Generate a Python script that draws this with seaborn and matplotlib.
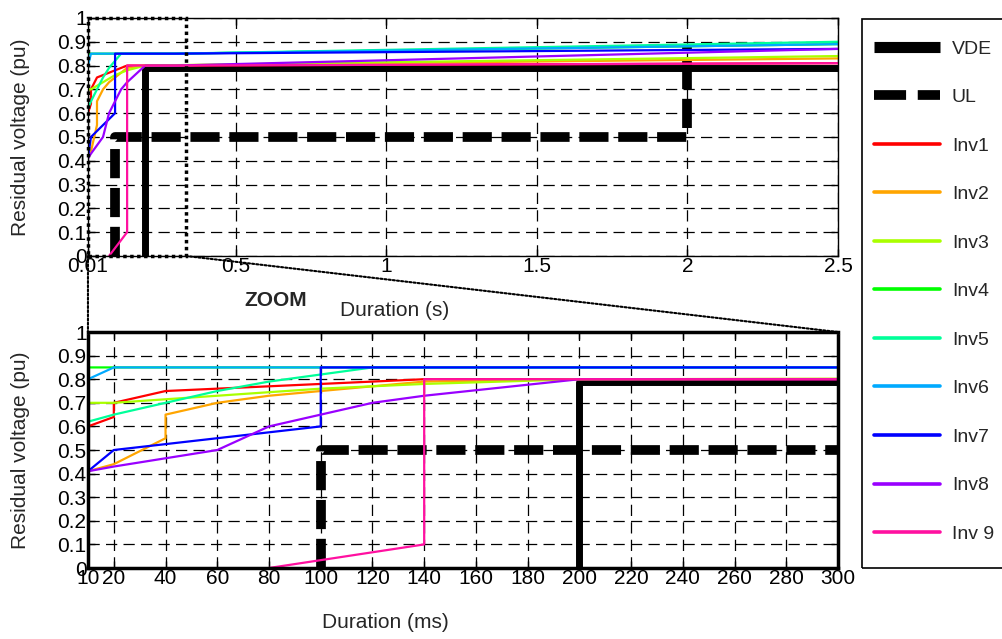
import numpy as np
import pandas as pd
import matplotlib
matplotlib.use("Agg")
import matplotlib.pyplot as plt
from matplotlib.patches import Rectangle, ConnectionPatch
from matplotlib.lines import Line2D
import seaborn as sns

# time in ms, residual voltage in pu
vde_t = [200, 200, 2500]
vde_v = [0.0, 0.79, 0.79]
ul_t = [100, 100, 2000, 2000]
ul_v = [0.0, 0.5, 0.5, 0.88]

inv_names = ["Inv1", "Inv2", "Inv3", "Inv4", "Inv5", "Inv6", "Inv7", "Inv8", "Inv 9"]
inv_colors = ["#ff0000", "#ffa500", "#aaff00", "#00ff00", "#00ff99",
              "#00aaff", "#0000ff", "#9900ff", "#ff10a0"]

inv1_t = [10, 20, 20, 40, 60, 100, 140, 300, 2500]
inv1_v = [0.60, 0.64, 0.70, 0.75, 0.76, 0.78, 0.80, 0.80, 0.81]
inv2_t = [10, 20, 40, 40, 60, 80, 100, 140, 200, 2500]
inv2_v = [0.41, 0.44, 0.55, 0.65, 0.70, 0.73, 0.75, 0.79, 0.80, 0.83]
inv3_t = [10, 20, 60, 100, 140, 200, 2500]
inv3_v = [0.70, 0.70, 0.73, 0.76, 0.78, 0.80, 0.84]
inv4_t = [10, 20, 300, 2500]
inv4_v = [0.85, 0.85, 0.85, 0.89]
inv5_t = [10, 20, 40, 60, 80, 100, 120, 300, 2500]
inv5_v = [0.62, 0.65, 0.70, 0.75, 0.79, 0.82, 0.85, 0.85, 0.90]
inv6_t = [10, 20, 300, 2500]
inv6_v = [0.80, 0.85, 0.85, 0.89]
inv7_t = [10, 20, 100, 100, 300, 2500]
inv7_v = [0.41, 0.50, 0.60, 0.85, 0.85, 0.87]
inv8_t = [10, 20, 60, 80, 100, 120, 140, 200, 300, 2500]
inv8_v = [0.41, 0.43, 0.50, 0.60, 0.65, 0.70, 0.73, 0.80, 0.80, 0.87]
inv9_t = [80, 140, 140, 300, 2500]
inv9_v = [0.0, 0.10, 0.80, 0.80, 0.81]

inv_t = [inv1_t, inv2_t, inv3_t, inv4_t, inv5_t, inv6_t, inv7_t, inv8_t, inv9_t]
inv_v = [inv1_v, inv2_v, inv3_v, inv4_v, inv5_v, inv6_v, inv7_v, inv8_v, inv9_v]

rows = []
for name, ts, vs in zip(inv_names, inv_t, inv_v):
    for t, v in zip(ts, vs):
        rows.append({"inv": name, "ms": t, "s": t / 1000.0, "v": v})
df = pd.DataFrame(rows)

sns.set_theme(style="ticks")
plt.rcParams["font.family"] = ["Liberation Sans", "DejaVu Sans"]
plt.rcParams["xtick.direction"] = "in"
plt.rcParams["ytick.direction"] = "in"

W, H = 1003, 639
fig = plt.figure(figsize=(W / 100, H / 100), dpi=100)
ax1 = fig.add_axes([0.0877, 0.5994, 0.7478, 0.3725])
ax2 = fig.add_axes([0.0877, 0.1111, 0.7478, 0.3693])

dash_ul = (0, (3, 1))
for ax, col, scale in [(ax1, "s", 1000.0), (ax2, "ms", 1.0)]:
    ax.plot(np.array(vde_t) / scale, vde_v, color="black", lw=5, solid_capstyle="butt")
    ax.plot(np.array(ul_t) / scale, ul_v, color="black", lw=7, linestyle=dash_ul,
            dash_capstyle="butt")
    sns.lineplot(data=df, x=col, y="v", hue="inv", palette=inv_colors, hue_order=inv_names,
                 sort=False, estimator=None, lw=1.6, ax=ax, legend=False)
    ax.set_ylim(0, 1)
    ax.set_yticks(np.arange(0, 1.01, 0.1))
    ax.set_yticklabels(["0", "0.1", "0.2", "0.3", "0.4", "0.5", "0.6", "0.7", "0.8", "0.9", "1"])
    ax.grid(True, color="black", linestyle=(0, (9, 5)), lw=0.9)
    ax.tick_params(top=True, right=True, length=5, width=1, labelsize=15, pad=1, colors="black")
    ax.set_ylabel("Residual voltage (pu)", fontsize=15)
    ax.yaxis.set_label_coords(-0.077, 0.5)
    for sp in ax.spines.values():
        sp.set_color("black")
        sp.set_linewidth(1)

ax1.set_xlim(0.01, 2.5)
ax1.set_xticks([0.01, 0.5, 1, 1.5, 2, 2.5])
ax1.set_xticklabels(["0.01", "0.5", "1", "1.5", "2", "2.5"])
ax1.set_xlabel("Duration (s)", fontsize=15)
ax1.xaxis.set_label_coords(0.409, -0.19)

ax2.set_xlim(10, 300)
ax2.set_xticks([10, 20, 40, 60, 80, 100, 120, 140, 160, 180, 200, 220, 240, 260, 280, 300])
ax2.set_xticklabels(["10", "20", "40", "60", "80", "100", "120", "140", "160", "180",
                     "200", "220", "240", "260", "280", "300"])
ax2.set_xlabel("Duration (ms)", fontsize=15)
ax2.xaxis.set_label_coords(0.396, -0.19)
for sp in ax2.spines.values():
    sp.set_linestyle((0, (1, 1)))
    sp.set_linewidth(2.5)

# zoom box and connectors
zoom_x1 = 0.335
ax1.add_patch(Rectangle((0.01, 0), zoom_x1 - 0.01, 1, fill=False, ec="black",
                        lw=2.5, ls=(0, (1, 1)), zorder=5, clip_on=False))
for (xa, ya), (xb, yb) in [((0.01, 0), (10, 1)), ((zoom_x1, 0), (300, 1))]:
    con = ConnectionPatch(xyA=(xa, ya), coordsA=ax1.transData, xyB=(xb, yb),
                          coordsB=ax2.transData, color="black", lw=1.5, ls=(0, (1, 1)))
    fig.add_artist(con)
fig.text(276 / W, 1 - 300 / H, "ZOOM", fontsize=15, fontweight="bold", ha="center", va="center")

# legend: frame drawn separately so it can run off the right edge like the original
fig.add_artist(Rectangle((862 / W, 1 - 568 / H), 160 / W, 549 / H, transform=fig.transFigure,
                         fill=False, ec="black", lw=1.2))
handles = [Line2D([], [], color="black", lw=8, solid_capstyle="butt"),
           Line2D([], [], color="black", lw=7, linestyle=(0, (3.3, 1.2)), dash_capstyle="butt")]
handles += [Line2D([], [], color=c, lw=2.6) for c in inv_colors]
labels = ["VDE", "UL"] + inv_names
fig.legend(handles, labels, loc="upper left", bbox_to_anchor=(874 / W, 1 - 40 / H),
           fontsize=14, frameon=False, handlelength=3.4, labelspacing=1.59,
           borderpad=0, handletextpad=0.6, borderaxespad=0)

fig.savefig("out.png", dpi=100, facecolor="white")
